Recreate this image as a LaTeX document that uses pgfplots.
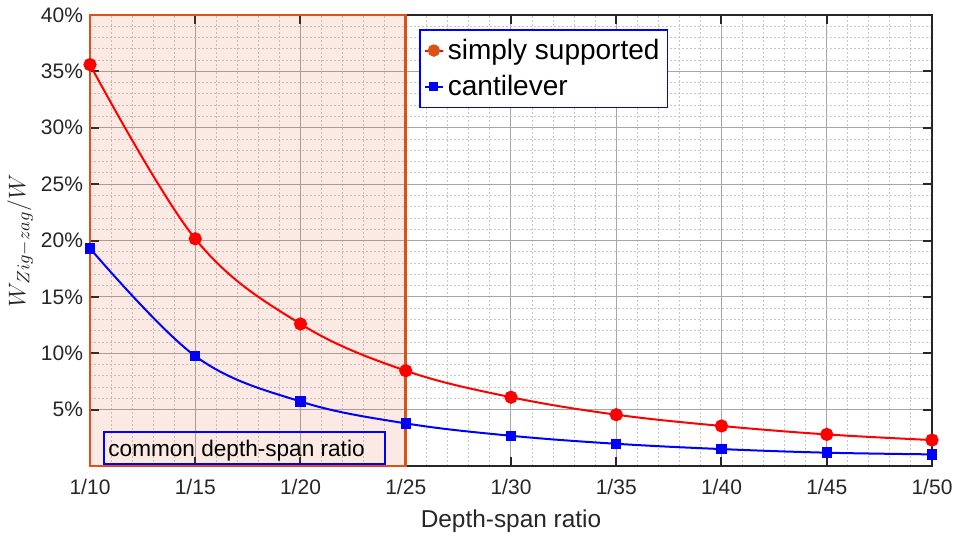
\documentclass[border=0pt]{standalone}
\usepackage{pgfplots}
\pgfplotsset{compat=1.18}
\usepackage{fontspec}
\setmainfont{Liberation Sans}
\definecolor{mborange}{HTML}{D95319}
\definecolor{txtgray}{HTML}{262626}
\begin{document}
\begin{tikzpicture}
\useasboundingbox (-45pt,-34.5pt) rectangle (435pt,233pt);
\begin{axis}[
  at={(0,0)}, anchor=south west,
  scale only axis, width=421pt, height=225.5pt,
  xmin=0, xmax=8, ymin=0, ymax=40,
  xtick={0,1,2,3,4,5,6,7,8},
  xticklabels={1/10,1/15,1/20,1/25,1/30,1/35,1/40,1/45,1/50},
  ytick={5,10,15,20,25,30,35,40},
  yticklabel={\pgfmathprintnumber{\tick}\%},
  minor x tick num=4, minor y tick num=4,
  grid=both,
  major grid style={color=black!35, line width=0.5pt},
  minor grid style={color=black!22, dash pattern=on 1pt off 1pt, line width=0.45pt},
  tick align=inside,
  major tick length=4.5pt,
  minor tick length=0pt,
  axis line style={txtgray, line width=1pt},
  major tick style={txtgray, line width=1pt},
  ticklabel style={font=\fontsize{10.5}{12}\selectfont, text=txtgray},
  xticklabel style={yshift=-3pt},
  /pgf/number format/assume math mode=true,
  xlabel={Depth-span ratio},
  xlabel style={font=\fontsize{12.2}{14}\selectfont, text=txtgray, at={(axis description cs:0.5,-0.122)}, anchor=center},
  ylabel={$W_{Zig-zag}/W$},
  ylabel style={font=\fontsize{12.5}{14}\selectfont, text=txtgray, at={(axis description cs:-0.0831,0.5)}, anchor=center},
  clip=false,
  legend cell align=left,
  legend style={at={(rel axis cs:0.3907,0.969)}, anchor=north west, draw=blue, line width=0.9pt, fill=white,
    font=\fontsize{14}{16}\selectfont, inner xsep=2pt, inner ysep=2.5pt, row sep=2.5pt},
]
\draw[mborange, line width=1.3pt, fill=mborange, fill opacity=0.12] (axis cs:0,0) rectangle (axis cs:3,40);
\draw[blue, line width=0.9pt] (axis cs:0.133,0.15) rectangle (axis cs:2.80,3.05);
\node[anchor=west, font=\fontsize{11.3}{13}\selectfont, inner sep=0pt, text=black] at (axis cs:0.171,1.37) {common depth-span ratio};

\addplot[red, line width=1pt, smooth, tension=0.6, mark=*, mark size=2.8pt, mark options={fill=red, draw=red},
  legend image code/.code={\draw[red, line width=1pt] (0pt,0pt) -- (9pt,0pt); \fill[mborange] (4.5pt,0pt) circle (2.6pt);}]
  coordinates {(0,35.6) (1,20.15) (2,12.6) (3,8.45) (4,6.1) (5,4.55) (6,3.55) (7,2.8) (8,2.3)};
\addlegendentry{simply supported}
\addplot[blue, line width=1pt, smooth, tension=0.6, mark=square*, mark size=2.1pt, mark options={fill=blue, draw=blue},
  legend image code/.code={\draw[blue, line width=1pt] (0pt,0pt) -- (9pt,0pt); \fill[blue] (2.7pt,-1.8pt) rectangle (6.3pt,1.8pt);}]
  coordinates {(0,19.3) (1,9.75) (2,5.72) (3,3.78) (4,2.68) (5,1.97) (6,1.5) (7,1.18) (8,1.03)};
\addlegendentry{cantilever}
\end{axis}
\end{tikzpicture}
\end{document}
